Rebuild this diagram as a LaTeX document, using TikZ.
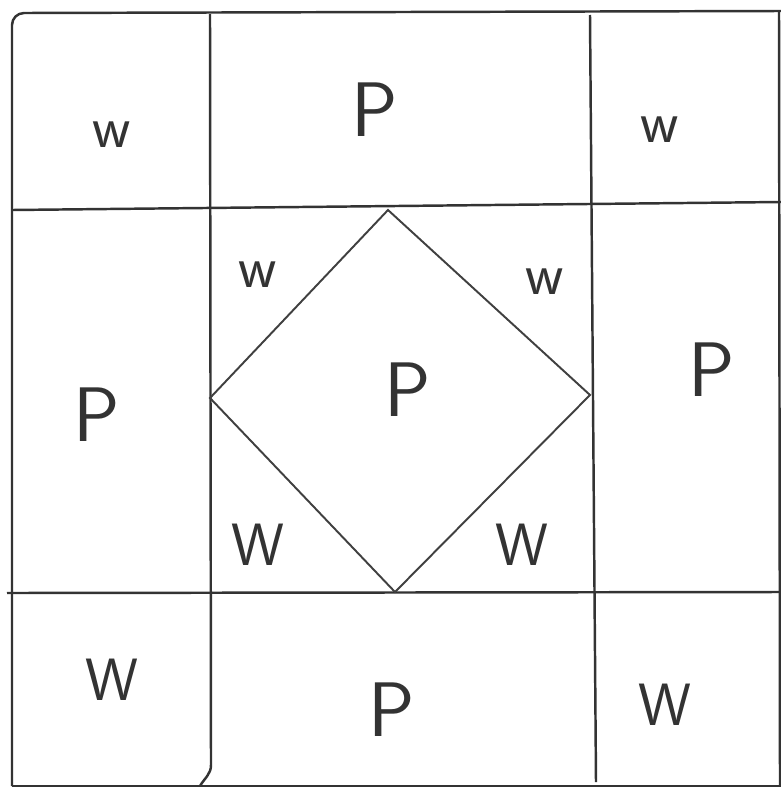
\documentclass[tikz,border=0pt]{standalone}
\begin{document}
\begin{tikzpicture}[x=0.02cm,y=-0.02cm,
  ln/.style={line width=1.4pt,black!80},
  dl/.style={line width=1.1pt,black!75},
  lab/.style={font=\sffamily\fontsize{44}{48}\selectfont,text=black!80,inner sep=0pt},
  sm/.style={font=\sffamily\fontsize{34}{38}\selectfont,text=black!80,inner sep=0pt}]
\useasboundingbox (0,0) rectangle (781,788);
\fill[white] (0,0) rectangle (781,788);
% outer frame
\draw[ln] (12,786) -- (12,25) to[out=90,in=180] (24,13) -- (781,11);
\draw[ln] (779,11) -- (780,786);
\draw[ln] (12,786) -- (781,786);
% grid lines
\coordinate (v1t) at (210,14); \coordinate (v1b) at (211,765);
\draw[ln] (v1t) -- (v1b) to[out=-90,in=60] (200,786);
\coordinate (v2t) at (590,15); \coordinate (v2b) at (596,782);
\draw[ln] (v2t) -- (v2b);
\coordinate (h1l) at (12,210); \coordinate (h1r) at (781,202);
\draw[ln] (h1l) -- (h1r);
\coordinate (h2l) at (7,593); \coordinate (h2r) at (781,592);
\draw[ln] (h2l) -- (h2r);
% diamond
\coordinate (dt) at (388,210);
\coordinate (dr) at (590,395);
\coordinate (db) at (395,592);
\coordinate (dl) at (210,398);
\draw[dl] (dt) -- (dr) -- (db) -- (dl) -- cycle;
% labels
\node[sm]  (a1) at (112,135) {w};
\node[lab] (a2) at (375,110) {P};
\node[sm]  (a3) at (660,130) {w};
\node[lab] (b1) at (97,415) {P};
\node[lab] (b2) at (408,390) {P};
\node[lab] (b3) at (712,370) {P};
\node[sm]  (c1) at (258,275) {w};
\node[sm]  (c2) at (545,282) {w};
\node[sm]  (c3) at (258,545) {W};
\node[sm]  (c4) at (522,545) {W};
\node[sm]  (d1) at (112,680) {W};
\node[lab] (d2) at (392,710) {P};
\node[sm]  (d3) at (665,705) {W};
\end{tikzpicture}
\end{document}
